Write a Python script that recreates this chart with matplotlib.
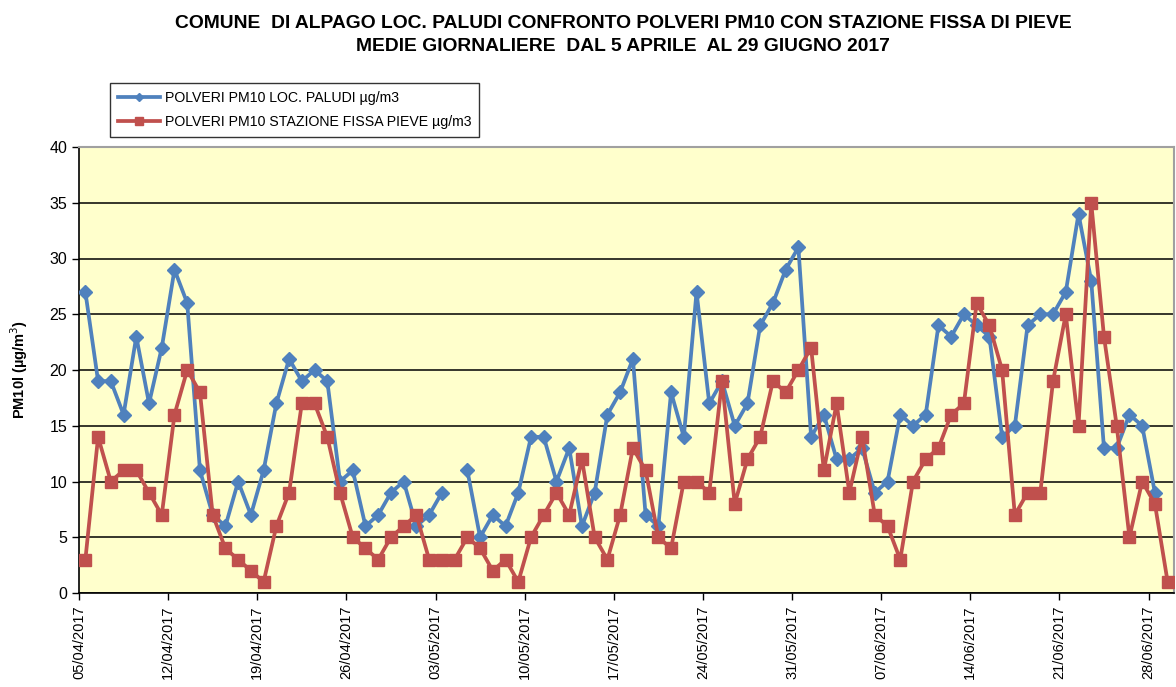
import datetime as dt
import numpy as np
import matplotlib
matplotlib.use("Agg")
import matplotlib.pyplot as plt

plt.rcParams['font.family'] = ['Liberation Sans', 'DejaVu Sans']

# daily means, 05/04/2017 .. 29/06/2017 (None = missing value)
paludi = [27, 19, 19, 16, 23, 17, 22, 29, 26, 11,
          7, 6, 10, 7, 11, 17, 21, 19, 20, 19,
          10, 11, 6, 7, 9, 10, 6, 7, 9, None,
          11, 5, 7, 6, 9, 14, 14, 10, 13, 6,
          9, 16, 18, 21, 7, 6, 18, 14, 27, 17,
          19, 15, 17, 24, 26, 29, 31, 14, 16, 12,
          12, 13, 9, 10, 16, 15, 16, 24, 23, 25,
          24, 23, 14, 15, 24, 25, 25, 27, 34, 28,
          13, 13, 16, 15, 9, None]
pieve = [3, 14, 10, 11, 11, 9, 7, 16, 20, 18,
         7, 4, 3, 2, 1, 6, 9, 17, 17, 14,
         9, 5, 4, 3, 5, 6, 7, 3, 3, 3,
         5, 4, 2, 3, 1, 5, 7, 9, 7, 12,
         5, 3, 7, 13, 11, 5, 4, 10, 10, 9,
         19, 8, 12, 14, 19, 18, 20, 22, 11, 17,
         9, 14, 7, 6, 3, 10, 12, 13, 16, 17,
         26, 24, 20, 7, 9, 9, 19, 25, 15, 35,
         23, 15, 5, 10, 8, 1]

start = dt.date(2017, 4, 5)
days = np.arange(len(pieve))
tick_days = np.arange(0, len(pieve), 7)
tick_labels = [(start + dt.timedelta(days=int(d))).strftime('%d/%m/%Y') for d in tick_days]

blue = '#4F81BD'
red = '#C0504D'

fig = plt.figure(figsize=(11.76, 6.87), dpi=100)
ax = fig.add_axes([79 / 1176, 94 / 687, 1095 / 1176, 446 / 687])
ax.set_facecolor('#FFFFCC')

y_pal = np.array([np.nan if v is None else v for v in paludi], dtype=float)
y_pie = np.array(pieve, dtype=float)

l1, = ax.plot(days, y_pal, color=blue, lw=2.7, marker='D', ms=7,
              label='POLVERI PM10 LOC. PALUDI µg/m3', zorder=3)
l2, = ax.plot(days, y_pie, color=red, lw=2.7, marker='s', ms=8,
              label='POLVERI PM10 STAZIONE FISSA PIEVE µg/m3', zorder=3)

ax.set_xlim(-0.5, len(pieve) - 0.5)
ax.set_ylim(0, 40)
ax.set_yticks(np.arange(0, 41, 5))
ax.yaxis.grid(True, color='black', lw=1.1)
ax.set_axisbelow(True)

ax.set_xticks(tick_days - 0.5)
ax.set_xticklabels(tick_labels, rotation=90, fontsize=10.5)
ax.tick_params(axis='y', labelsize=11.5, direction='out', length=5, width=1)
ax.tick_params(axis='x', direction='out', length=5, width=1, pad=4)

for s in ['left', 'bottom']:
    ax.spines[s].set_color('black')
    ax.spines[s].set_linewidth(1.2)
for s in ['top', 'right']:
    ax.spines[s].set_color('#A0A0A0')
    ax.spines[s].set_linewidth(1.5)

ax.set_ylabel('PM10l (µg/m$^3$)', fontsize=10.5, fontweight='bold', labelpad=14)

fig.text(0.53, 0.966, 'COMUNE  DI ALPAGO LOC. PALUDI CONFRONTO POLVERI PM10 CON STAZIONE FISSA DI PIEVE',
         ha='center', va='center', fontsize=13.9, fontweight='bold')
fig.text(0.53, 0.933, 'MEDIE GIORNALIERE  DAL 5 APRILE  AL 29 GIUGNO 2017',
         ha='center', va='center', fontsize=13.9, fontweight='bold')

leg = fig.legend(handles=[l1, l2], loc='upper left', bbox_to_anchor=(110 / 1176, 1 - 83 / 687),
                 borderaxespad=0, fontsize=10.2, frameon=True, fancybox=False, edgecolor='black',
                 handlelength=3.0, borderpad=0.55, labelspacing=0.75, handletextpad=0.3,
                 markerscale=0.65)
leg.get_frame().set_linewidth(1.0)

fig.savefig('out.png', dpi=100)
